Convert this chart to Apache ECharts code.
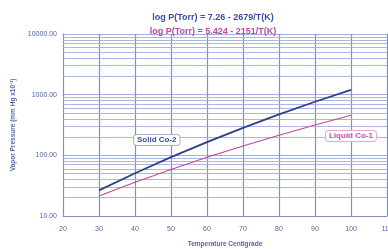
<!DOCTYPE html>
<html>
<head>
<meta charset="utf-8">
<script src="https://cdn.jsdelivr.net/npm/echarts@6/dist/echarts.min.js"></script>
<style>
  html, body { margin: 0; padding: 0; background: #fff; }
  #chart { width: 388px; height: 249px; }
</style>
</head>
<body>
<div id="chart"></div>
<script>
// temperature in centigrade
var temps = [30, 40, 50, 60, 70, 80, 90, 100];
// vapor pressure, mm Hg x10^-3
var solidCo2 = [26.5, 50.7, 93.3, 165, 284, 472, 764, 1204];
var liquidCo1 = [21.3, 35.9, 58.6, 92.8, 143, 215, 317, 457];
// minor log lines 2..9 per decade
var minorLines = [20, 30, 40, 50, 60, 70, 80, 90,
    200, 300, 400, 500, 600, 700, 800, 900,
    2000, 3000, 4000, 5000, 6000, 7000, 8000, 9000];

var titleTop = 'log P(Torr) = 7.26 - 2679/T(K)';
var titleBottom = 'log P(Torr) = 5.424 - 2151/T(K)';

var vGridColor = '#7f8fc8';
var hGridColor = '#a3afdb';
var labelColor = '#5566a8';

function pairs(xs, ys) {
    return xs.map((x, i) => [x, ys[i]]);
}

var chart = echarts.init(document.getElementById('chart'));
chart.setOption({
    animation: false,
    textStyle: { fontFamily: 'Liberation Sans, Arial, sans-serif' },
    title: [
        {
            text: titleTop,
            left: 208, top: 8, textAlign: 'center',
            textStyle: { fontSize: 9, fontWeight: 'bold', color: '#3b4da0' }
        },
        {
            text: titleBottom,
            left: 208, top: 22, textAlign: 'center',
            textStyle: { fontSize: 9, fontWeight: 'bold', color: '#c0479b' }
        }
    ],
    grid: { left: 63, right: 1, top: 34, bottom: 33, outerBoundsMode: 'none' },
    xAxis: {
        type: 'value',
        min: 20, max: 110, interval: 10,
        name: 'Temperature Centigrade',
        nameLocation: 'middle',
        nameGap: 25,
        nameTextStyle: { fontSize: 6.5, fontWeight: 'bold', color: labelColor },
        axisLine: { lineStyle: { color: vGridColor } },
        axisTick: { show: false },
        axisLabel: { fontSize: 7, color: labelColor, margin: 10 },
        splitLine: { show: true, lineStyle: { color: vGridColor, width: 1.2 } }
    },
    yAxis: {
        type: 'log',
        logBase: 10,
        min: 10, max: 10000,
        name: 'Vapor Pressure (mm Hg x10\u207B\u00B3)',
        nameLocation: 'middle',
        nameGap: 45,
        nameTextStyle: { fontSize: 6.5, fontWeight: 'bold', color: labelColor },
        axisLine: { show: true, lineStyle: { color: vGridColor } },
        axisTick: { show: false },
        axisLabel: {
            fontSize: 7, color: labelColor, margin: 6,
            formatter: v => v.toFixed(2)
        },
        splitLine: { show: true, lineStyle: { color: hGridColor, width: 1 } }
    },
    series: [
        {
            name: 'grid',
            type: 'line',
            data: [],
            silent: true,
            markLine: {
                silent: true,
                symbol: 'none',
                label: { show: false },
                lineStyle: { color: hGridColor, type: 'solid', width: 0.9 },
                data: minorLines.map(v => ({ yAxis: v }))
            }
        },
        {
            name: 'Solid Co-2',
            type: 'line',
            data: pairs(temps, solidCo2),
            showSymbol: false,
            lineStyle: { color: '#2e3e8c', width: 1.8 },
            z: 5
        },
        {
            name: 'Liquid Co-1',
            type: 'line',
            data: pairs(temps, liquidCo1),
            showSymbol: false,
            lineStyle: { color: '#c2459a', width: 1.1 },
            z: 5
        }
    ],
    graphic: [
        {
            type: 'text',
            left: 133, top: 134,
            z: 10,
            style: {
                text: 'Solid Co-2',
                fontSize: 8, fontWeight: 'bold',
                fontFamily: 'Liberation Sans, Arial, sans-serif',
                fill: '#3b4da0',
                backgroundColor: '#fff',
                borderColor: '#a9b3d6', borderWidth: 1, borderRadius: 3,
                padding: [1, 3]
            }
        },
        {
            type: 'text',
            left: 325, top: 130,
            z: 10,
            style: {
                text: 'Liquid Co-1',
                fontSize: 8, fontWeight: 'bold',
                fontFamily: 'Liberation Sans, Arial, sans-serif',
                fill: '#c94fa3',
                backgroundColor: '#fff',
                borderColor: '#e3a9cf', borderWidth: 1, borderRadius: 3,
                padding: [1, 3]
            }
        }
    ]
});
</script>
</body>
</html>
